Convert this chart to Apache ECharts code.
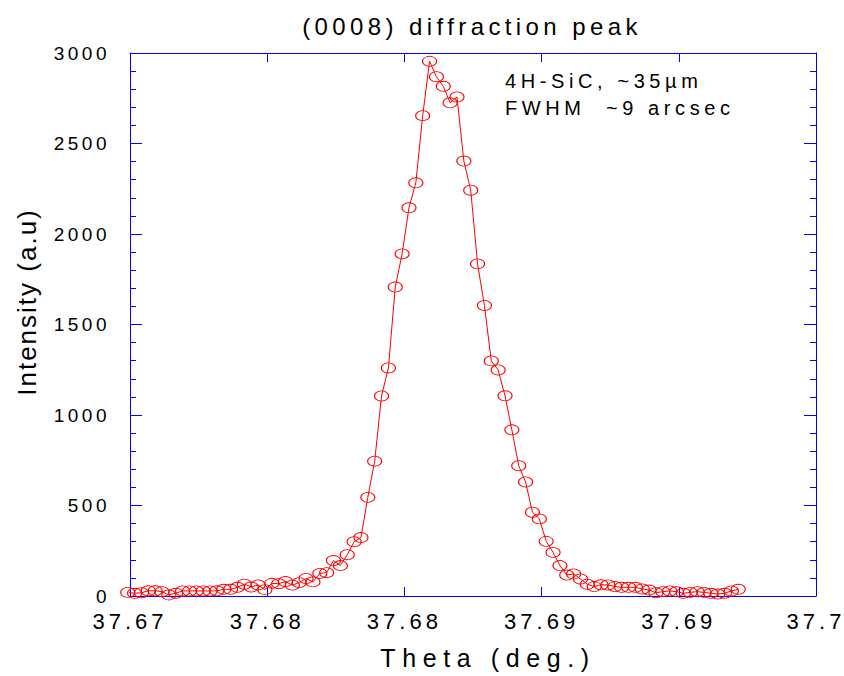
<!DOCTYPE html>
<html><head><meta charset="utf-8">
<script src="https://cdn.jsdelivr.net/npm/echarts@6/dist/echarts.min.js"></script>
<style>html,body{margin:0;padding:0;background:#fff}#chart{width:844px;height:676px}svg text{white-space:pre}</style>
</head><body><div id="chart"></div>
<script>
const theta = [
37.6699,37.6702,37.6705,37.6708,37.6711,37.6714,37.6717,37.6720,37.6723,37.6726,
37.6729,37.6732,37.6735,37.6738,37.6741,37.6744,37.6747,37.6750,37.6753,37.6756,
37.6759,37.6762,37.6765,37.6768,37.6771,37.6774,37.6777,37.6780,37.6783,37.6786,
37.6789,37.6792,37.6795,37.6798,37.6801,37.6804,37.6807,37.6810,37.6813,37.6816,
37.6819,37.6822,37.6825,37.6828,37.6831,37.6834,37.6837,37.6840,37.6843,37.6846,
37.6849,37.6852,37.6855,37.6858,37.6861,37.6864,37.6867,37.6870,37.6873,37.6876,
37.6879,37.6882,37.6885,37.6888,37.6891,37.6894,37.6897,37.6900,37.6903,37.6906,
37.6909,37.6912,37.6915,37.6918,37.6921,37.6924,37.6927,37.6930,37.6933,37.6936,
37.6939,37.6942,37.6945,37.6948,37.6951,37.6954,37.6957,37.6960,37.6963,37.6966];
const intensity = [
20,15,18,29,29,24,6,15,28,28,
28,28,28,29,37,37,48,65,50,61,
35,70,68,80,60,74,97,78,125,129,
196,168,228,300,323,545,745,1105,1260,1707,
1890,2145,2283,2654,2954,2869,2816,2725,2757,2403,
2242,1835,1605,1299,1249,1106,918,720,630,463,
426,302,241,168,116,122,94,65,52,62,
61,52,48,48,48,39,33,18,24,28,
24,15,20,24,20,15,11,15,28,37];
const xTickValues = [37.67, 37.676, 37.682, 37.688, 37.694, 37.70];
const xTickLabels = ['37.67', '37.68', '37.68', '37.69', '37.69', '37.7'];
const yTickLabels = ['0', '500', '1000', '1500', '2000', '2500', '3000'];
const titleText = '(0008) diffraction peak';
const xAxisName = 'Theta (deg.)';
const yAxisName = 'Intensity (a.u)';
const noteLines = ['4H-SiC, ~35µm', 'FWHM  ~9 arcsec'];

const FONT = 'Liberation Sans, Arial, Helvetica, sans-serif';
const BLUE = '#0000ff';
const RED = '#ff0000';

const chart = echarts.init(document.getElementById('chart'), null, {renderer: 'svg'});

function xLabel(v) {
  let best = 0, d = Infinity;
  xTickValues.forEach((t, i) => { const dd = Math.abs(t - v); if (dd < d) { d = dd; best = i; } });
  return xTickLabels[best];
}
function yLabel(v) {
  const i = Math.round(v / 500);
  return yTickLabels[i] !== undefined ? yTickLabels[i] : String(v);
}

const xBase = {
  type: 'value', min: 37.67, max: 37.70,
  axisLine: {show: true, onZero: false, lineStyle: {color: BLUE, width: 1}},
  axisTick: {show: true, inside: true, length: 9, customValues: xTickValues, lineStyle: {color: BLUE, width: 1}},
  splitLine: {show: false}
};
const yBase = {
  type: 'value', min: 0, max: 3000, interval: 500,
  axisLine: {show: true, onZero: false, lineStyle: {color: BLUE, width: 1}},
  axisTick: {show: true, inside: true, length: 12, lineStyle: {color: BLUE, width: 1}},
  minorTick: {show: true, splitNumber: 5, length: 6, lineStyle: {color: BLUE, width: 1}},
  splitLine: {show: false}
};

chart.setOption({
  animation: false,
  backgroundColor: '#fff',
  grid: {left: 130, right: 28, top: 53, bottom: 80, containLabel: false, outerBoundsMode: 'none'},
  xAxis: [
    Object.assign({}, xBase, {position: 'bottom',
      axisLabel: {show: true, customValues: xTickValues, formatter: xLabel, margin: 14,
        fontSize: 22, fontFamily: FONT, color: '#000'}}),
    Object.assign({}, xBase, {position: 'top', axisLabel: {show: false}})
  ],
  yAxis: [
    Object.assign({}, yBase, {position: 'left',
      axisLabel: {show: true, formatter: yLabel, margin: 20, fontSize: 19, fontFamily: FONT, color: '#000'}}),
    Object.assign({}, yBase, {position: 'right', axisLabel: {show: false}})
  ],
  graphic: [
    {type: 'text', x: 472, y: 26, style: {text: titleText, font: '24px ' + FONT, fill: '#000', textAlign: 'center', textVerticalAlign: 'middle'}},
    {type: 'text', x: 488, y: 658, style: {text: xAxisName, font: '25px ' + FONT, fill: '#000', textAlign: 'center', textVerticalAlign: 'middle'}},
    {type: 'text', x: 27, y: 302, rotation: Math.PI / 2, style: {text: yAxisName, font: '26px ' + FONT, fill: '#000', textAlign: 'center', textVerticalAlign: 'middle'}},
    {type: 'text', x: 505, y: 81, style: {text: noteLines[0], font: '20px ' + FONT, fill: '#000', textAlign: 'left', textVerticalAlign: 'middle'}},
    {type: 'text', x: 505, y: 108, style: {text: noteLines[1], font: '20px ' + FONT, fill: '#000', textAlign: 'left', textVerticalAlign: 'middle'}}
  ],
  series: [{
    type: 'line',
    xAxisIndex: 0, yAxisIndex: 0,
    data: theta.map((t, i) => [t, intensity[i]]),
    clip: false,
    showAllSymbol: true,
    symbol: 'circle',
    symbolSize: [14, 10],
    itemStyle: {color: 'rgba(255,255,255,0)', borderColor: RED, borderWidth: 1},
    lineStyle: {color: RED, width: 1},
    emphasis: {disabled: true}
  }]
});

function spacingFor(t) {
  if (t === yAxisName) return 2;
  if (t === titleText) return 4.4;
  if (t === xAxisName) return 6.6;
  if (noteLines.indexOf(t) >= 0) return 4.6;
  if (xTickLabels.indexOf(t) >= 0) return 4;
  return 3.5;
}
function applySpacing() {
  document.querySelectorAll('#chart svg text').forEach(el => {
    el.setAttribute('letter-spacing', spacingFor(el.textContent) + 'px');
  });
}
chart.on('finished', applySpacing);
applySpacing();
</script></body></html>
